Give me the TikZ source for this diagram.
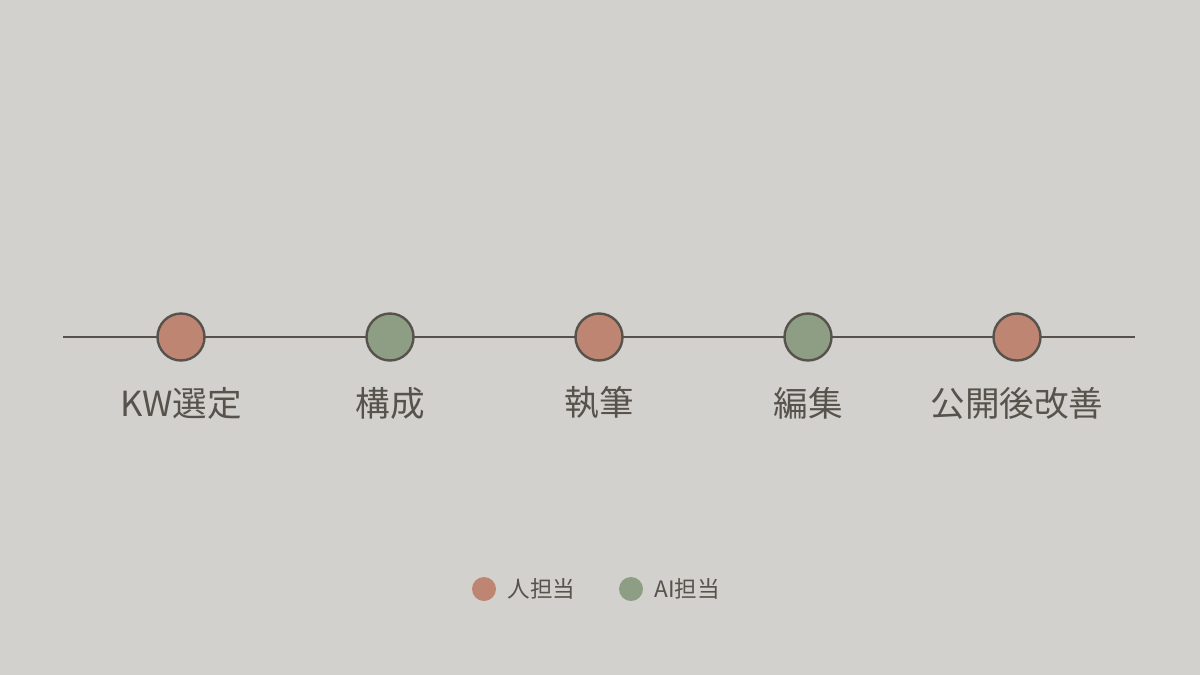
\documentclass[tikz,border=0pt]{standalone}
\usepackage{fontspec}
\setmainfont{Noto Sans CJK JP}
\definecolor{bgc}{HTML}{D2D1CE}
\definecolor{human}{HTML}{BE8672}
\definecolor{ai}{HTML}{8E9E84}
\definecolor{ink}{HTML}{57534C}
\tikzset{
  stage/.style={circle, draw=ink, line width=1.2pt, minimum size=23.5pt, inner sep=0pt},
  lbl/.style={text=ink, font=\fontsize{17.3pt}{20pt}\selectfont, inner sep=0pt, anchor=center},
  dot/.style={circle, minimum size=12pt, inner sep=0pt},
  leg/.style={text=ink, font=\fontsize{11.3pt}{13pt}\selectfont, inner sep=0pt, anchor=west}
}
\begin{document}
\begin{tikzpicture}[x=0.5pt,y=-0.5pt]
\fill[bgc] (0,0) rectangle (1200,675);
\useasboundingbox (0,0) rectangle (1200,675);
\coordinate (ls) at (63,337);
\coordinate (le) at (1135,337);
\draw[ink, line width=1pt] (ls) -- (le);
\node[stage, fill=human] (s1) at (181,337) {};
\node[stage, fill=ai] (s2) at (390,337) {};
\node[stage, fill=human] (s3) at (599,337) {};
\node[stage, fill=ai] (s4) at (808,337) {};
\node[stage, fill=human] (s5) at (1017,337) {};
\node[lbl] (t1) at (181,403) {KW選定};
\node[lbl] (t2) at (390,403) {構成};
\node[lbl] (t3) at (599,403) {執筆};
\node[lbl] (t4) at (808,403) {編集};
\node[lbl] (t5) at (1017,403) {公開後改善};
\node[dot, fill=human] (d1) at (484,589) {};
\node[leg] (l1) at (507,589) {人担当};
\node[dot, fill=ai] (d2) at (631,589) {};
\node[leg] (l2) at (654,589) {AI担当};
\end{tikzpicture}
\end{document}
